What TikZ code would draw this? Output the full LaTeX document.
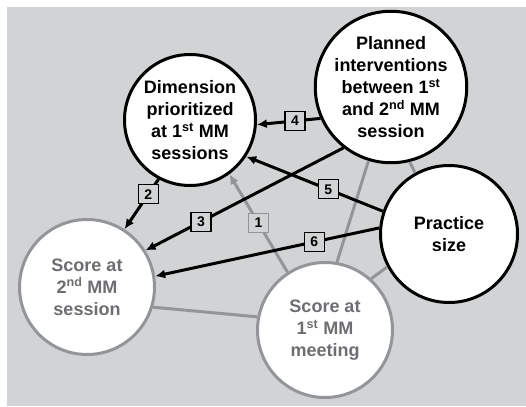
\documentclass[tikz,border=0pt]{standalone}
\usepackage{fontspec}
\setmainfont{Liberation Sans}
\usetikzlibrary{arrows.meta}
\definecolor{bggray}{HTML}{D1D3D4}
\definecolor{linegray}{HTML}{939598}
\definecolor{textgray}{HTML}{6D6E71}
\newcommand{\sps}[1]{\textsuperscript{#1}}

\begin{document}
\begin{tikzpicture}[x=1pt, y=-1pt, >={Latex[length=10pt,width=9pt]},
  dark/.style={circle, draw=black, line width=3pt, fill=white, align=center, inner sep=0pt, font=\fontsize{18}{22}\selectfont\bfseries},
  light/.style={dark, draw=linegray, text=textgray},
  link/.style={line width=3pt},
  faint/.style={link, draw=linegray},
  num/.style={draw=black, line width=1.2pt, fill=bggray, minimum width=20pt, minimum height=19pt, inner sep=0pt, font=\fontsize{14}{14}\selectfont\bfseries}]
			\useasboundingbox (0,0) rectangle (526,406);
			\fill[bggray] (7,7) rectangle (526,406);
			
			\node[dark, minimum size=131pt](dim) at (190,120) {Dimension\\prioritized\\at 1\sps{st} MM\\sessions};
			\node[dark, minimum size=136pt](plan) at (391,87) {Planned\\interventions\\between 1\sps{st}\\and 2\sps{nd} MM\\session};
			\node[dark, minimum size=137pt](prac) at (449,234) {Practice\\size};
			\node[light, minimum size=135pt](stwo) at (87,287) {Score at\\2\sps{nd} MM\\session};
			\node[light, minimum size=135pt](sone) at (325,330) {Score at\\1\sps{st} MM\\meeting};
			
			% undirected gray links
			\draw[faint](stwo.-17) -- (sone.169);
			\draw[faint](sone.80) -- (plan.253);
			\draw[faint](sone.48) -- (prac.208);
			\draw[faint](plan.-76) -- (prac.119);
			\draw[faint, ->](sone.123) -- node[num, draw=linegray, pos=0.5](n1) {1} (dim.-54);
			
			% directed black links
			\draw[link, ->](dim.242) -- node[num, pos=0.3](n2) {2} (stwo.57);
			\draw[link, ->](plan.232) -- node[num, pos=0.72](n3) {3} (stwo.32);
			\draw[link, ->](prac.161) -- node[num, pos=0.4](n5) {5} (dim.-33);
			\draw[link, ->](plan.204) -- node[num, pos=0.4](n4) {4} (dim.-4);
			\draw[link, ->](prac.175) -- node[num, pos=0.29](n6) {6} (stwo.9);
		\end{tikzpicture}
\end{document}
